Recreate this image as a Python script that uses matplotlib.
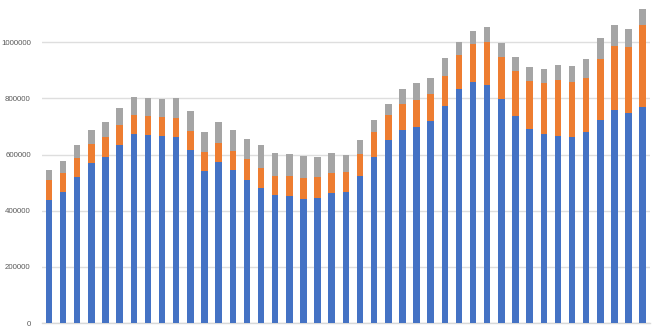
import matplotlib
matplotlib.use("Agg")
import matplotlib.pyplot as plt
import numpy as np

# Stacked series (values in units)
blue = [438, 467, 520, 570, 591, 635, 674, 671, 665, 661, 618, 541, 573, 545, 511,
        482, 457, 454, 442, 445, 463, 466, 523, 593, 652, 687, 700, 718, 773, 835,
        858, 848, 799, 736, 690, 672, 668, 661, 679, 724, 758, 747, 769]
orange = [71, 69, 69, 68, 73, 69, 66, 65, 68, 70, 66, 67, 67, 67, 72,
          70, 67, 70, 74, 75, 73, 71, 80, 87, 88, 95, 95, 97, 107, 119,
          137, 154, 150, 162, 173, 184, 198, 196, 194, 215, 230, 237, 294]
gray = [35, 41, 45, 48, 52, 62, 66, 65, 66, 70, 71, 73, 77, 74, 72,
        81, 80, 79, 79, 72, 70, 61, 49, 43, 42, 51, 60, 59, 64, 46,
        46, 54, 49, 50, 49, 49, 53, 57, 69, 77, 72, 62, 56]

blue = np.array(blue) * 1000
orange = np.array(orange) * 1000
gray = np.array(gray) * 1000
x = np.arange(len(blue))

fig = plt.figure(figsize=(6.6, 3.3), dpi=100)
ax = fig.add_axes([41.9 / 660, 7 / 330, (649.8 - 41.9) / 660, 323 / 330])

w = 0.46
ax.bar(x, blue, width=w, color='#4472C4', zorder=3)
ax.bar(x, orange, width=w, bottom=blue, color='#ED7D31', zorder=3)
ax.bar(x, gray, width=w, bottom=blue + orange, color='#A5A5A5', zorder=3)

ax.set_xlim(-0.5, len(blue) - 0.5)
ax.set_ylim(0, 1150800)
ax.set_yticks(np.arange(0, 1000001, 200000))
ax.set_yticklabels([str(v) for v in range(0, 1000001, 200000)])
ax.yaxis.grid(True, color='#DEDEDE', linewidth=1, zorder=0)
ax.set_xticks([])
ax.tick_params(axis='y', length=0, pad=8, labelsize=5.7, labelcolor='#595959')
for t in ax.get_yticklabels():
    t.set_fontfamily('Liberation Sans')

for side in ['top', 'right', 'left']:
    ax.spines[side].set_visible(False)
ax.spines['bottom'].set_color('#D9D9D9')
ax.spines['bottom'].set_linewidth(1)

fig.savefig('out.png', dpi=100)
plt.close(fig)
